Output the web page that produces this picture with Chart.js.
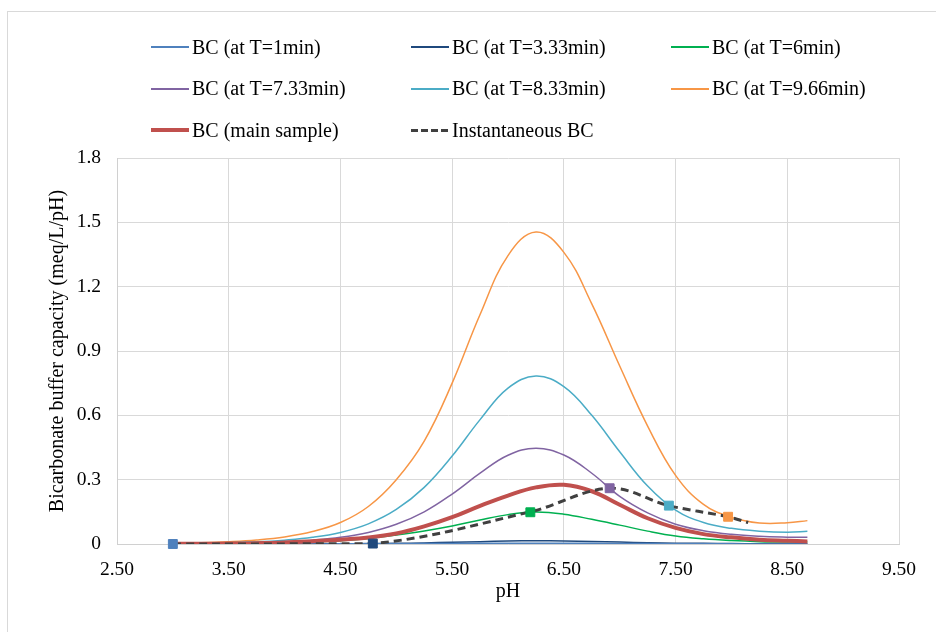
<!DOCTYPE html>
<html>
<head>
<meta charset="utf-8">
<title>Bicarbonate buffer capacity</title>
<script src="https://cdn.jsdelivr.net/npm/chart.js@4.4.1/dist/chart.umd.min.js"></script>
<style>
  html, body { margin: 0; padding: 0; background: #fff; }
  #wrap { position: relative; width: 936px; height: 632px; overflow: hidden;
          font-family: "Liberation Serif", "Times New Roman", serif; }
  #frame { position: absolute; left: 7px; top: 11px; width: 980px; height: 700px;
           border: 1px solid #d9d9d9; }
  #chart { position: absolute; left: 0; top: 0; }
  .lg { position: absolute; height: 26px; display: flex; align-items: center;
        font-size: 20px; color: #000; white-space: nowrap; }
  .lg i { display: inline-block; width: 38px; margin-right: 3px; }
</style>
</head>
<body>
<div id="wrap">
  <div id="frame"></div>
  <canvas id="chart" width="936" height="632"></canvas>
  <div id="legend"></div>
</div>
<script>
// pH grid shared by the BC curves
const ph = [3.0, 3.25, 3.5, 3.75, 4.0, 4.25, 4.5, 4.75, 5.0, 5.25, 5.5, 5.75,
            6.0, 6.25, 6.5, 6.75, 7.0, 7.25, 7.5, 7.75, 8.0, 8.25, 8.5, 8.68];

const bcT1   = [0.000, 0.000, 0.000, 0.000, 0.000, 0.000, 0.001, 0.001, 0.001, 0.002, 0.002, 0.003,
                0.003, 0.003, 0.003, 0.003, 0.002, 0.002, 0.001, 0.001, 0.001, 0.000, 0.000, 0.000];
const bcT333 = [0.000, 0.000, 0.000, 0.000, 0.001, 0.001, 0.001, 0.002, 0.003, 0.005, 0.008, 0.011,
                0.014, 0.015, 0.014, 0.012, 0.009, 0.006, 0.004, 0.003, 0.002, 0.001, 0.001, 0.001];
const bcT6   = [0.000, 0.001, 0.002, 0.003, 0.005, 0.009, 0.015, 0.026, 0.042, 0.061, 0.084, 0.112,
                0.137, 0.149, 0.139, 0.115, 0.088, 0.060, 0.037, 0.024, 0.016, 0.011, 0.009, 0.009];
const bcT733 = [0.001, 0.002, 0.003, 0.006, 0.010, 0.018, 0.031, 0.054, 0.092, 0.150, 0.233, 0.330,
                0.414, 0.446, 0.415, 0.330, 0.222, 0.145, 0.092, 0.062, 0.045, 0.036, 0.032, 0.031];
const bcT833 = [0.002, 0.003, 0.006, 0.010, 0.018, 0.031, 0.054, 0.094, 0.161, 0.264, 0.410, 0.580,
                0.727, 0.783, 0.734, 0.600, 0.430, 0.270, 0.158, 0.100, 0.073, 0.060, 0.055, 0.059];
const bcT966 = [0.003, 0.006, 0.011, 0.019, 0.033, 0.058, 0.100, 0.175, 0.300, 0.480, 0.750, 1.070,
                1.345, 1.455, 1.360, 1.120, 0.830, 0.550, 0.320, 0.185, 0.125, 0.098, 0.099, 0.109];
const bcMain = [0.001, 0.001, 0.002, 0.004, 0.007, 0.013, 0.020, 0.030, 0.049, 0.082, 0.125, 0.178,
                0.226, 0.264, 0.276, 0.246, 0.183, 0.120, 0.075, 0.046, 0.031, 0.020, 0.015, 0.012];

// instantaneous BC (dashed) and the square markers at each sampling time
const instPh = [3.0, 4.79, 6.20, 6.91, 7.44, 7.97, 8.15];
const instBc = [0.000, 0.002, 0.150, 0.260, 0.179, 0.127, 0.100];
const markerPh = [3.0, 4.79, 6.20, 6.91, 7.44, 7.97];
const markerBc = [0.000, 0.002, 0.148, 0.260, 0.179, 0.127];
const markerColors = ['#4f81bd', '#1f497d', '#00b050', '#8064a2', '#4bacc6', '#f79646'];

const xTicks = [2.5, 3.5, 4.5, 5.5, 6.5, 7.5, 8.5, 9.5];
const yTicks = [0, 0.3, 0.6, 0.9, 1.2, 1.5, 1.8];

const serif = "'Liberation Serif', 'Times New Roman', serif";
const toPts = (xs, ys) => xs.map((x, i) => ({ x, y: ys[i] }));

const curve = (label, values, color, width, order) => ({
  label, data: toPts(ph, values),
  borderColor: color, backgroundColor: color, borderWidth: width,
  pointRadius: 0, tension: 0.4, order,
  legendWidth: width > 2 ? 4 : 2
});

const datasets = [
  curve('BC (at T=1min)', bcT1, '#4f81bd', 1.5, 10),
  curve('BC (at T=3.33min)', bcT333, '#1f497d', 1.5, 10),
  curve('BC (at T=6min)', bcT6, '#00b050', 1.5, 10),
  curve('BC (at T=7.33min)', bcT733, '#8064a2', 1.5, 10),
  curve('BC (at T=8.33min)', bcT833, '#4bacc6', 1.5, 10),
  curve('BC (at T=9.66min)', bcT966, '#f79646', 1.5, 10),
  curve('BC (main sample)', bcMain, '#c0504d', 4, 5),
  {
    label: 'Instantaneous BC', data: toPts(instPh, instBc),
    borderColor: '#404040', backgroundColor: '#404040', borderWidth: 3,
    borderDash: [8, 5], pointRadius: 0, tension: 0.35, order: 2, legendWidth: 3
  },
  {
    label: 'markers', data: toPts(markerPh, markerBc), showLine: false,
    pointStyle: 'rect', pointRadius: 6.3, pointBorderWidth: 1,
    pointBackgroundColor: markerColors, pointBorderColor: markerColors,
    order: 0, clip: false, hideInLegend: true
  }
];

const chart = new Chart(document.getElementById('chart'), {
  type: 'line',
  data: { datasets },
  options: {
    responsive: false,
    animation: false,
    layout: { padding: { top: 158, right: 37, left: 0, bottom: 0 } },
    plugins: { legend: { display: false }, tooltip: { enabled: false } },
    scales: {
      x: {
        type: 'linear', min: 2.5, max: 9.5,
        afterBuildTicks: s => { s.ticks = xTicks.map(v => ({ value: v })); },
        afterFit: s => { s.height = 88; },
        ticks: { callback: v => v.toFixed(2), font: { family: serif, size: 19.5 }, color: '#000',
                 padding: 14, maxRotation: 0, autoSkip: false },
        grid: { color: '#d9d9d9', lineWidth: 1, drawTicks: false },
        border: { color: '#d0d0d0' },
        title: { display: true, text: 'pH', color: '#000', font: { family: serif, size: 20 },
                 padding: { top: 0, bottom: 28 } }
      },
      y: {
        min: 0, max: 1.8,
        afterBuildTicks: s => { s.ticks = yTicks.map(v => ({ value: v })); },
        afterFit: s => { s.width = 117; },
        ticks: { callback: v => v === 0 ? '0' : v.toFixed(1), font: { family: serif, size: 19.5 },
                 color: '#000', padding: 16 },
        grid: { color: '#d9d9d9', lineWidth: 1, drawTicks: false },
        border: { color: '#d0d0d0' },
        title: { display: true, text: 'Bicarbonate buffer capacity (meq/L/pH)', color: '#000',
                 font: { family: serif, size: 20 }, padding: { top: 46, bottom: 0 } }
      }
    }
  }
});

// legend in a 3-column grid, built from the chart's datasets
const legendEl = document.getElementById('legend');
chart.data.datasets.filter(d => !d.hideInLegend).forEach((d, i) => {
  const row = Math.floor(i / 3), col = i % 3;
  const item = document.createElement('div');
  item.className = 'lg';
  item.style.left = (151 + col * 260) + 'px';
  item.style.top = (34 + row * 41.5) + 'px';
  const sw = document.createElement('i');
  sw.style.height = d.legendWidth + 'px';
  sw.style.background = d.borderDash
    ? `repeating-linear-gradient(to right, ${d.borderColor} 0 7px, transparent 7px 10px)`
    : d.borderColor;
  item.appendChild(sw);
  item.appendChild(document.createTextNode(d.label));
  legendEl.appendChild(item);
});
</script>
</body>
</html>
